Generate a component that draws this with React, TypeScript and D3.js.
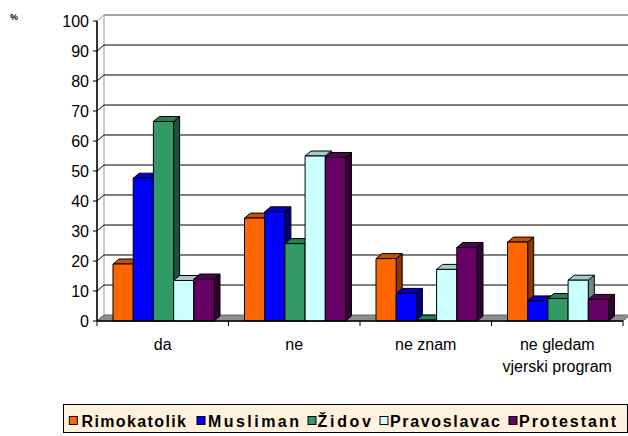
import React from "react";
import * as d3 from "d3";

const categories = ["da", "ne", "ne znam", "ne gledam\nvjerski program"];
const seriesNames = ["Rimokatolik", "Musliman", "Židov", "Pravoslavac", "Protestant"];
const rimokatolik = [19, 34.3, 20.8, 26.3];
const musliman = [47.6, 36.4, 9.2, 6.7];
const zidov = [66.5, 25.8, 0.3, 7.5];
const pravoslavac = [13.5, 55, 17.2, 13.6];
const protestant = [14, 54.5, 24.5, 7.2];
const seriesValues = [rimokatolik, musliman, zidov, pravoslavac, protestant];
const yTicks = [0, 10, 20, 30, 40, 50, 60, 70, 80, 90, 100];

const frontColors = ["#FF6600", "#0000FF", "#339966", "#CCFFFF", "#660066"];
const topColors = ["#C65000", "#0000C8", "#2A7D54", "#A0CCCC", "#520052"];
const sideColors = ["#8C3800", "#000080", "#1C5238", "#6E8C8C", "#330033"];

// layout
const W = 628, H = 436;
const X0 = 97, X1 = 623, Y0 = 321, Y1 = 21;
const BDX = 6, BDY = 5; // bar depth
const WDX = 7, WDY = 6; // wall depth
const legendSq = [69.3, 197, 308, 380, 509];
const legendTx = [81.5, 208, 317.5, 390, 519];
const legendTw = [104.5, 91, 53.5, 110, 97];

export default function App() {
  const x = d3.scaleBand<string>().domain(categories).range([X0, X1]);
  const xs = d3.scaleBand<string>().domain(seriesNames).range([16, 117]);
  const y = d3.scaleLinear().domain([0, 100]).range([Y0, Y1]);
  const bw = xs.bandwidth();
  const font = "'Liberation Sans', Arial, sans-serif";

  const bars: React.ReactNode[] = [];
  categories.forEach((c, ci) => {
    seriesNames.forEach((s, si) => {
      const v = seriesValues[si][ci];
      const xl = (x(c) as number) + (xs(s) as number);
      const xr = xl + bw;
      const yt = y(v);
      const yb = y(0);
      const side = `${xr},${yb} ${xr + BDX},${yb - BDY} ${xr + BDX},${yt - BDY} ${xr},${yt}`;
      const top = `${xl},${yt} ${xl + BDX},${yt - BDY} ${xr + BDX},${yt - BDY} ${xr},${yt}`;
      bars.push(
        <g key={`${ci}-${si}`} stroke="#000" strokeWidth={1} strokeLinejoin="round">
          <polygon points={side} fill={sideColors[si]} />
          <polygon points={top} fill={topColors[si]} />
          <rect x={xl} y={yt} width={bw} height={Math.max(0, yb - yt)} fill={frontColors[si]} />
        </g>
      );
    });
  });

  return (
    <svg width={W} height={H} style={{ position: "absolute", left: 0, top: 0 }} fontFamily={font}>
      <rect x={0} y={0} width={W} height={H} fill="#fff" />
      <text x={10} y={20} fontSize={9} fontWeight="bold">%</text>
      {/* left wall */}
      <polygon
        points={`${X0},${Y1} ${X0 + WDX},${Y1 - WDY} ${X0 + WDX},${Y0 - WDY} ${X0},${Y0}`}
        fill="#fff"
        stroke="#999"
        strokeWidth={1}
      />
      {/* top edge */}
      <line x1={X0 + WDX} y1={y(100) - WDY} x2={W + 5} y2={y(100) - WDY} stroke="#888" strokeWidth={1.5} />
      {/* gridlines */}
      {yTicks.filter((t) => t > 0 && t < 100).map((t) => (
        <polyline
          key={t}
          points={`${X0},${y(t)} ${X0 + WDX},${y(t) - WDY} ${W + 5},${y(t) - WDY}`}
          fill="none"
          stroke="#000"
          strokeWidth={1}
        />
      ))}
      {/* floor */}
      <polygon
        points={`${X0},${Y0} ${X1},${Y0} ${X1 + WDX},${Y0 - WDY} ${X0 + WDX},${Y0 - WDY}`}
        fill="#8c8c8c"
        stroke="#666"
        strokeWidth={1}
      />
      {bars}
      {/* axes */}
      <line x1={X0} y1={Y1} x2={X0} y2={Y0} stroke="#000" strokeWidth={1.5} />
      <line x1={X0} y1={Y0} x2={X1} y2={Y0} stroke="#000" strokeWidth={1.5} />
      {yTicks.map((t) => (
        <g key={t}>
          <line x1={X0 - 4} y1={y(t)} x2={X0} y2={y(t)} stroke="#000" strokeWidth={1} />
          <text x={89} y={y(t)} dy="0.36em" textAnchor="end" fontSize={16}>{t}</text>
        </g>
      ))}
      {categories.map((c, i) => (
        <line key={"t" + i} x1={x(c) as number} y1={Y0} x2={x(c) as number} y2={Y0 + 5} stroke="#000" />
      ))}
      <line x1={X1} y1={Y0} x2={X1} y2={Y0 + 5} stroke="#000" />
      {categories.map((c) => {
        const cx = (x(c) as number) + x.bandwidth() / 2;
        return (
          <text key={c} x={cx} y={350} textAnchor="middle" fontSize={16}>
            {c.split("\n").map((ln, li) => (
              <tspan key={li} x={cx} y={350 + li * 21.7}>{ln}</tspan>
            ))}
          </text>
        );
      })}
      {/* legend */}
      <rect x={63.5} y={404.5} width={564} height={28} fill="#FFF1DB" stroke="#000" strokeWidth={1} />
      {seriesNames.map((s, i) => (
        <g key={s}>
          <rect x={legendSq[i]} y={416.5} width={8} height={8} fill={frontColors[i]} stroke="#000" strokeWidth={1} />
          <text
            x={legendTx[i]}
            y={426.8}
            fontSize={16}
            fontWeight="bold"
            textLength={legendTw[i]}
            lengthAdjust="spacing"
          >
            {s}
          </text>
        </g>
      ))}
    </svg>
  );
}
